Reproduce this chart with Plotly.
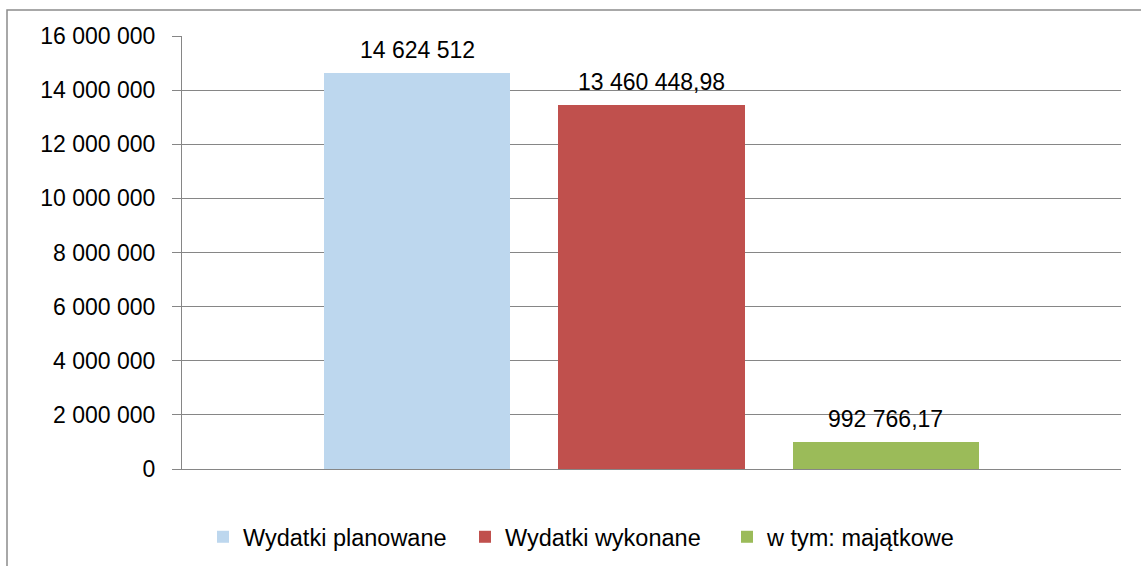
import plotly.graph_objects as go

categories = ["Wydatki planowane", "Wydatki wykonane", "w tym: majątkowe"]
values = [14624512, 13460448.98, 992766.17]
value_labels = ["14 624 512", "13 460 448,98", "992 766,17"]
colors = ["#BDD7EE", "#C0504D", "#9BBB59"]
tick_vals = [0, 2000000, 4000000, 6000000, 8000000, 10000000, 12000000, 14000000, 16000000]
tick_text = ["0", "2 000 000", "4 000 000", "6 000 000", "8 000 000", "10 000 000",
             "12 000 000", "14 000 000", "16 000 000"]

FONT = "Liberation Sans, Arial, sans-serif"
GRID = "#868686"
FS = 23
LFS = 23.5

W, H = 1141, 566
ML, MT, MR, MB = 182, 36, 20, 97
PW = W - ML - MR
PH = H - MT - MB

fig = go.Figure()
for cat, val, col in zip(categories, values, colors):
    fig.add_trace(go.Bar(x=[cat], y=[val], name=cat, marker=dict(color=col, line=dict(width=0)),
                         hoverinfo="skip"))

for cat, val, lab in zip(categories, values, value_labels):
    fig.add_annotation(x=cat, y=val, text=lab, showarrow=False, yanchor="bottom",
                       yshift=8, font=dict(family=FONT, size=FS, color="#000000"))

fig.update_layout(
    width=W, height=H,
    margin=dict(l=ML, r=MR, t=MT, b=MB, pad=0, autoexpand=False),
    paper_bgcolor="white", plot_bgcolor="white",
    barmode="stack", bargap=0.205,
    showlegend=True,
    legend=dict(orientation="h", x=(203 - ML) / PW, xanchor="left",
                y=(469 - 537) / PH, yanchor="middle", entrywidth=217,
                font=dict(family=FONT, size=LFS, color="#000000"), traceorder="normal"),
    font=dict(family=FONT, size=FS, color="#000000"),
    xaxis=dict(type="category", range=[-1.006, 3.006], showticklabels=False, ticks="",
               showgrid=False, showline=True, linecolor=GRID, linewidth=1, zeroline=False),
    yaxis=dict(range=[0, 16000000], tickvals=tick_vals, ticktext=tick_text,
               showgrid=True, gridcolor=GRID, gridwidth=1, showline=True, linecolor=GRID,
               linewidth=1, ticks="outside", ticklen=9, tickcolor=GRID, zeroline=False,
               ticklabelstandoff=12, tickfont=dict(family=FONT, size=FS, color="#000000")),
    shapes=[dict(type="rect", xref="paper", yref="paper", x0=(7 - ML) / PW, x1=1.2,
                 y0=-0.6, y1=(469 - 10) / PH, line=dict(color="#8C8C8C", width=1.5),
                 fillcolor="rgba(0,0,0,0)", layer="below")],
)

fig.write_html("out.html", config={"displayModeBar": False},
               post_script="document.body.style.margin='0';")
